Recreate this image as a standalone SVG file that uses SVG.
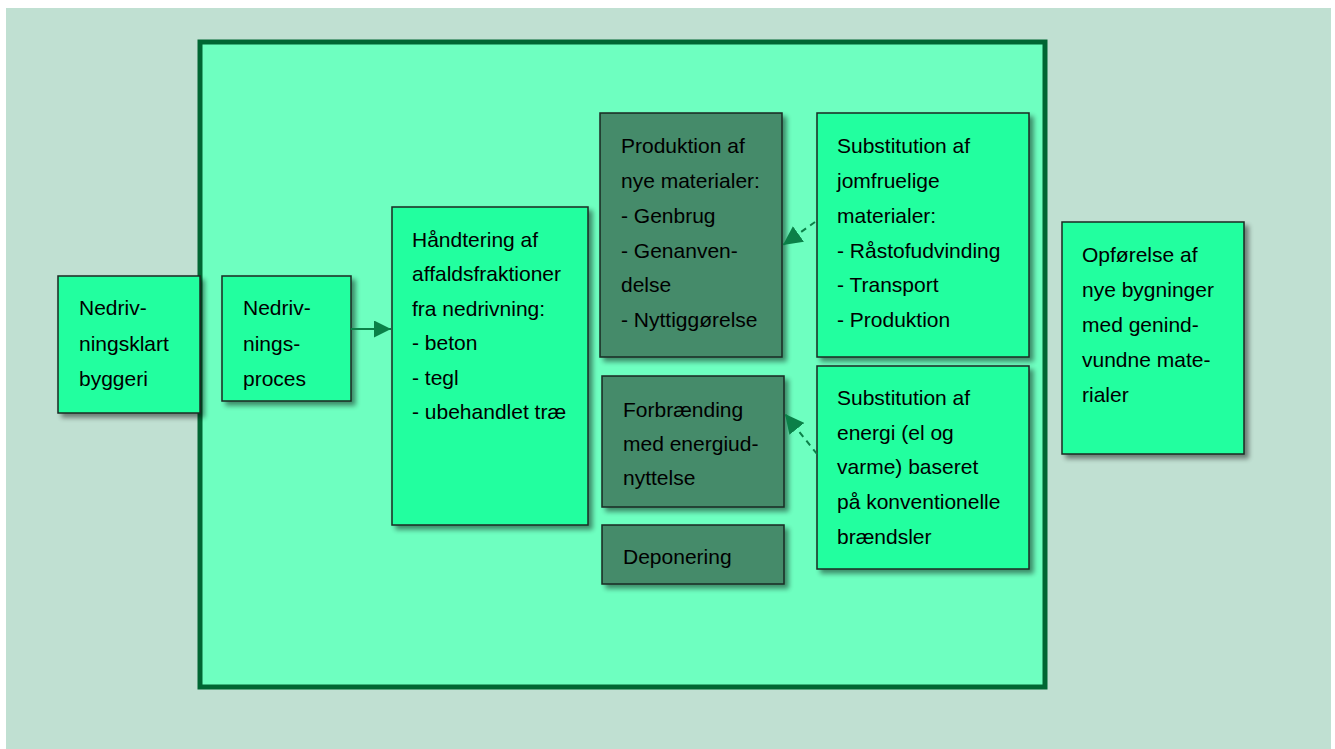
<svg xmlns="http://www.w3.org/2000/svg" width="1335" height="749" viewBox="0 0 1335 749">
  <defs>
    <filter id="sh" x="-10%" y="-10%" width="130%" height="130%">
      <feGaussianBlur in="SourceAlpha" stdDeviation="2.5"/>
      <feOffset dx="4" dy="4" result="b"/>
      <feComponentTransfer><feFuncA type="linear" slope="0.45"/></feComponentTransfer>
      <feMerge><feMergeNode/><feMergeNode in="SourceGraphic"/></feMerge>
    </filter>
    <marker id="ah" viewBox="0 0 10 10" refX="10" refY="5" markerWidth="17" markerHeight="17" markerUnits="userSpaceOnUse" orient="auto">
      <path d="M0,0 L10,5 L0,10 Z" fill="#0b8048"/>
    </marker>
    <marker id="ah2" viewBox="0 0 10 10" refX="10" refY="5" markerWidth="19" markerHeight="19" markerUnits="userSpaceOnUse" orient="auto">
      <path d="M0,0 L10,5 L0,10 Z" fill="#0b8048"/>
    </marker>
  </defs>
  <style>
    .bright { fill: #21ff9f; stroke: #1a2a22; stroke-width: 1.5; }
    .dark { fill: #448b6b; stroke: #1a2a22; stroke-width: 1.5; }
    text { font-family: "Liberation Sans", Arial, sans-serif; font-size: 21px; fill: #000; }
    .conn { stroke: #0b8048; stroke-width: 2; fill: none; }
    .dash { stroke-dasharray: 6 5; }
  </style>
  <rect x="6" y="8" width="1325" height="741" fill="#c0e0d2"/>
  <g id="frame">
    <rect x="200" y="42" width="845" height="645" fill="#6effc0" stroke="#006633" stroke-width="5"/>
  </g>
  <g id="n1">
    <rect class="bright" x="58" y="276" width="142" height="137" filter="url(#sh)"/>
    <text x="79" y="315">Nedriv-</text>
    <text x="79" y="351">ningsklart</text>
    <text x="79" y="386">byggeri</text>
  </g>
  <g id="n2">
    <rect class="bright" x="222" y="276" width="129" height="125" filter="url(#sh)"/>
    <text x="243" y="315">Nedriv-</text>
    <text x="243" y="351">nings-</text>
    <text x="243" y="386">proces</text>
  </g>
  <g id="n3">
    <rect class="bright" x="392" y="207" width="196" height="318" filter="url(#sh)"/>
    <text x="412" y="247">Håndtering af</text>
    <text x="412" y="281">affaldsfraktioner</text>
    <text x="412" y="316">fra nedrivning:</text>
    <text x="412" y="350">- beton</text>
    <text x="412" y="385">- tegl</text>
    <text x="412" y="419">- ubehandlet træ</text>
  </g>
  <g id="n4">
    <rect class="dark" x="600" y="113" width="182" height="244" filter="url(#sh)"/>
    <text x="621" y="153">Produktion af</text>
    <text x="621" y="188">nye materialer:</text>
    <text x="621" y="223">- Genbrug</text>
    <text x="621" y="258">- Genanven-</text>
    <text x="621" y="292">delse</text>
    <text x="621" y="327">- Nyttiggørelse</text>
  </g>
  <g id="n5">
    <rect class="bright" x="817" y="113" width="212" height="244" filter="url(#sh)"/>
    <text x="837" y="153">Substitution af</text>
    <text x="837" y="188">jomfruelige</text>
    <text x="837" y="223">materialer:</text>
    <text x="837" y="258">- Råstofudvinding</text>
    <text x="837" y="292">- Transport</text>
    <text x="837" y="327">- Produktion</text>
  </g>
  <g id="n6">
    <rect class="dark" x="602" y="376" width="182" height="131" filter="url(#sh)"/>
    <text x="623" y="417">Forbrænding</text>
    <text x="623" y="451">med energiud-</text>
    <text x="623" y="485">nyttelse</text>
  </g>
  <g id="n7">
    <rect class="dark" x="602" y="525" width="182" height="59" filter="url(#sh)"/>
    <text x="623" y="564">Deponering</text>
  </g>
  <g id="n8">
    <rect class="bright" x="817" y="366" width="212" height="203" filter="url(#sh)"/>
    <text x="837" y="405">Substitution af</text>
    <text x="837" y="440">energi (el og</text>
    <text x="837" y="474">varme) baseret</text>
    <text x="837" y="509">på konventionelle</text>
    <text x="837" y="544">brændsler</text>
  </g>
  <g id="n9">
    <rect class="bright" x="1062" y="222" width="182" height="232" filter="url(#sh)"/>
    <text x="1082" y="262">Opførelse af</text>
    <text x="1082" y="297">nye bygninger</text>
    <text x="1082" y="332">med genind-</text>
    <text x="1082" y="367">vundne mate-</text>
    <text x="1082" y="402">rialer</text>
  </g>
  <g id="connectors">
    <line class="conn" x1="351" y1="329" x2="391" y2="329" marker-end="url(#ah)"/>
    <line class="conn dash" x1="815" y1="222" x2="783" y2="245" marker-end="url(#ah2)"/>
    <line class="conn dash" x1="817" y1="454" x2="785" y2="414" marker-end="url(#ah2)"/>
  </g>
</svg>
